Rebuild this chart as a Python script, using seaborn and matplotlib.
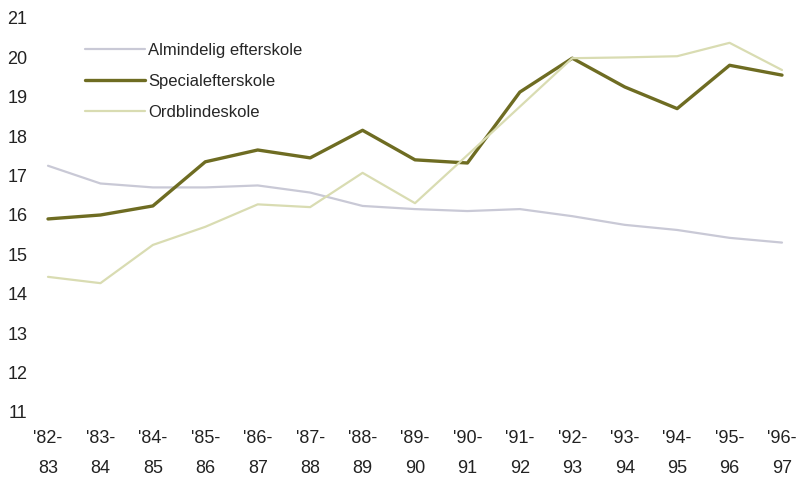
import matplotlib.pyplot as plt
import numpy as np
import pandas as pd
import seaborn as sns

seasons = ["'82-\n83", "'83-\n84", "'84-\n85", "'85-\n86", "'86-\n87", "'87-\n88",
           "'88-\n89", "'89-\n90", "'90-\n91", "'91-\n92", "'92-\n93", "'93-\n94",
           "'94-\n95", "'95-\n96", "'96-\n97"]
almindelig = [17.25, 16.8, 16.7, 16.7, 16.75, 16.57, 16.23, 16.15, 16.1, 16.15,
              15.97, 15.75, 15.62, 15.42, 15.3]
special = [15.9, 16.0, 16.23, 17.35, 17.65, 17.45, 18.15, 17.4, 17.32, 19.12,
           19.98, 19.25, 18.7, 19.8, 19.55]
ordblinde = [14.43, 14.27, 15.24, 15.7, 16.27, 16.2, 17.07, 16.3, 17.52, 18.75,
             19.98, 20.0, 20.03, 20.37, 19.68]

names = ["Almindelig efterskole", "Specialefterskole", "Ordblindeskole"]
colors = ["#c9c9d6", "#6e6c22", "#d9dcb2"]
widths = [1.6, 2.4, 1.6]

df = pd.DataFrame({
    "pos": list(range(len(seasons))) * 3,
    "value": almindelig + special + ordblinde,
    "serie": [n for n in names for _ in seasons],
})

sns.set_style("white")
plt.rcParams["font.family"] = ["Liberation Sans", "DejaVu Sans"]

fig = plt.figure(figsize=(8.08, 4.79), dpi=100)
ax = fig.add_axes([40 / 808, 67 / 479, 750 / 808, 394 / 479])

for name, col, lw in zip(names, colors, widths):
    sub = df[df["serie"] == name]
    sns.lineplot(data=sub, x="pos", y="value", color=col, linewidth=lw,
                 label=name, ax=ax)

ax.set_xlim(-8 / 52.43, 14 + 8 / 52.43)
ax.set_ylim(11, 21)
ax.set_yticks(np.arange(11, 22, 1))
ax.set_xticks(range(len(seasons)))
ax.set_xticklabels(seasons, linespacing=2.0)
ax.tick_params(axis="both", length=0, labelsize=13, colors="#222222")
ax.tick_params(axis="x", pad=13)
ax.tick_params(axis="y", pad=9)
ax.set_xlabel("")
ax.set_ylabel("")
sns.despine(ax=ax, left=True, bottom=True)

ax.legend(loc="upper left", bbox_to_anchor=(0.04, 0.975), frameon=False,
          fontsize=12, handlelength=3.6, handletextpad=0.2,
          labelspacing=0.95)

fig.savefig("out.png", dpi=100)
